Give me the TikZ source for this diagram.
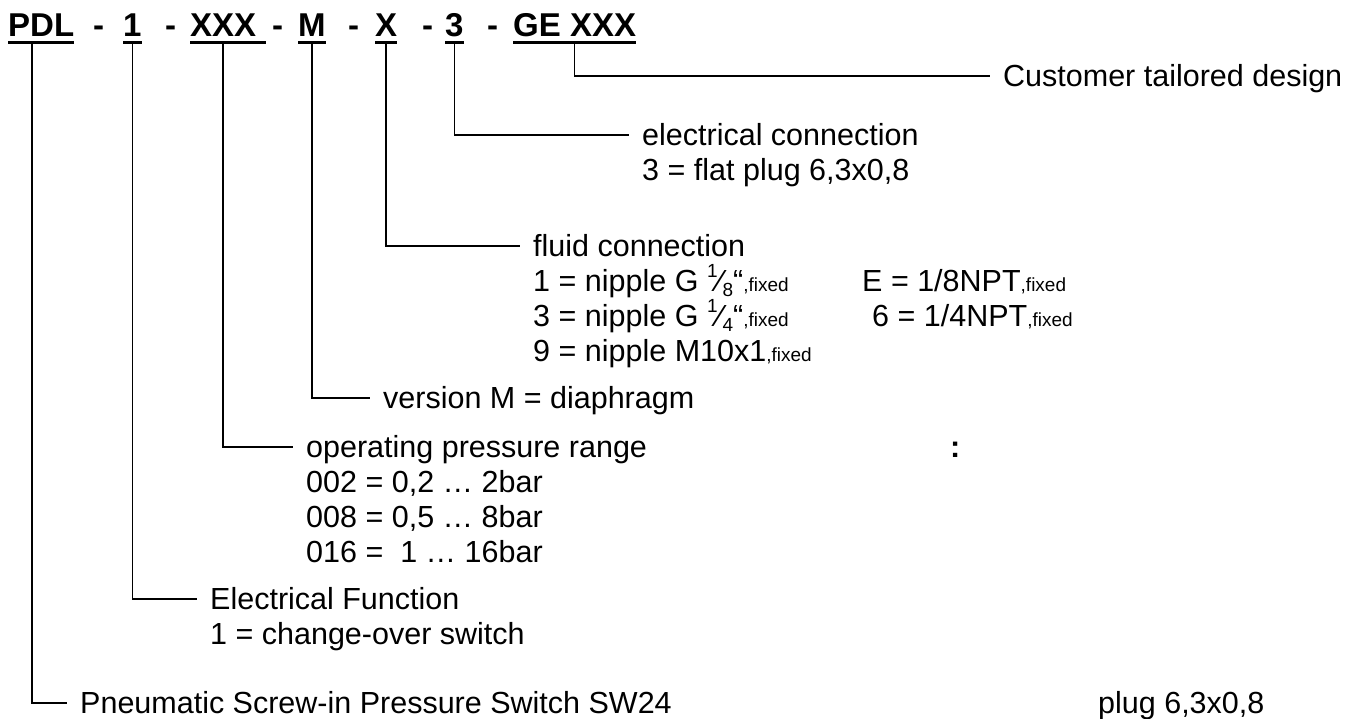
\documentclass[tikz,border=0pt]{standalone}
\usepackage{fontspec}
\setmainfont{Liberation Sans}
\usetikzlibrary{positioning}
\newcommand{\bodyfnt}{\fontsize{30.5}{35}\selectfont}
\newcommand{\smallfnt}{\fontsize{19}{19}\selectfont}
\newcommand{\frc}[2]{\raisebox{0.45em}{\smallfnt#1}⁄\raisebox{-0.15em}{\smallfnt#2}}
\tikzset{
  code/.style={font=\fontsize{33}{33}\selectfont\bfseries,inner sep=0,anchor=base west},
  uline/.style={line width=3pt},
  lead/.style={line width=1.6pt,shorten >=13pt},
  head/.style={font=\bodyfnt,inner sep=0,anchor=west,text height=23pt,text depth=2pt},
  row/.style={font=\bodyfnt,inner sep=0,anchor=base west}
}
\begin{document}
\begin{tikzpicture}[x=1pt,y=-1pt]
  \useasboundingbox (0,0) rectangle (1358,718);
  % order code
  \node[code] (pdl) at (8,36) {PDL};
  \node[code] (d1) at (93,36) {-};
  \node[code] (fn) at (123,36) {1};
  \node[code] (d2) at (165,36) {-};
  \node[code] (rng) at (190,36) {XXX};
  \node[code] (d3) at (272,36) {-};
  \node[code] (ver) at (298,36) {M};
  \node[code] (d4) at (348,36) {-};
  \node[code] (fl) at (375,36) {X};
  \node[code] (d5) at (422,36) {-};
  \node[code] (el) at (445,36) {3};
  \node[code] (d6) at (487,36) {-};
  \node[code] (cus) at (513,36) {GE XXX};
  \foreach \c in {pdl,fn,ver,fl,el,cus}
    \draw[uline] ([yshift=-6pt]\c.base west) -- ([yshift=-6pt]\c.base east);
  \draw[uline] ([yshift=-6pt]rng.base west) -- ([xshift=10pt,yshift=-6pt]rng.base east);

  % descriptions
  \node[head] (hcus) at (1003,76) {Customer tailored design};

  \node[head] (hel) at (642,135) {electrical connection};
  \node[row] (el1) at ([yshift=-35pt]hel.base west) {3 = flat plug 6,3x0,8};

  \node[head] (hfl) at (533,246) {fluid connection};
  \node[row] (fl1) at ([yshift=-35pt]hfl.base west) {1 = nipple G \frc18“{\smallfnt,fixed}};
  \node[row] (fl2) at ([yshift=-70pt]hfl.base west) {3 = nipple G \frc14“{\smallfnt,fixed}};
  \node[row] (fl3) at ([yshift=-105pt]hfl.base west) {9 = nipple M10x1{\smallfnt,fixed}};
  \node[row] (fl4) at (862,0 |- fl1.base) {E = 1/8NPT{\smallfnt,fixed}};
  \node[row] (fl5) at (872,0 |- fl2.base) {6 = 1/4NPT{\smallfnt,fixed}};

  \node[head] (hver) at (383,398) {version M = diaphragm};

  \node[head] (hrng) at (306,447) {operating pressure range};
  \node[row] (rng1) at ([yshift=-35pt]hrng.base west) {002 = 0,2 … 2bar};
  \node[row] (rng2) at ([yshift=-70pt]hrng.base west) {008 = 0,5 … 8bar};
  \node[row] (rng3) at ([yshift=-105pt]hrng.base west) {016 =\ \ 1 … 16bar};
  \node[head,font=\bodyfnt\bfseries] (col) at (950,447) {:};

  \node[head] (hfn) at (210,599) {Electrical Function};
  \node[row] (fn1) at ([yshift=-35pt]hfn.base west) {1 = change-over switch};

  \node[head] (hpdl) at (80,703) {Pneumatic Screw-in Pressure Switch SW24};
  \node[head] (plug) at (1098,703) {plug 6,3x0,8};

  % leaders
  \draw[lead] ([yshift=-6pt]cus.base) |- (hcus.west);
  \draw[lead] ([yshift=-6pt]el.base) |- (hel.west);
  \draw[lead] ([yshift=-6pt]fl.base) |- (hfl.west);
  \draw[lead] ([yshift=-6pt]ver.base) |- (hver.west);
  \draw[lead] ([yshift=-6pt]rng.base) |- (hrng.west);
  \draw[lead] ([yshift=-6pt]fn.base) |- (hfn.west);
  \draw[lead] ([xshift=-9pt,yshift=-6pt]pdl.base) |- (hpdl.west);
\end{tikzpicture}
\end{document}
